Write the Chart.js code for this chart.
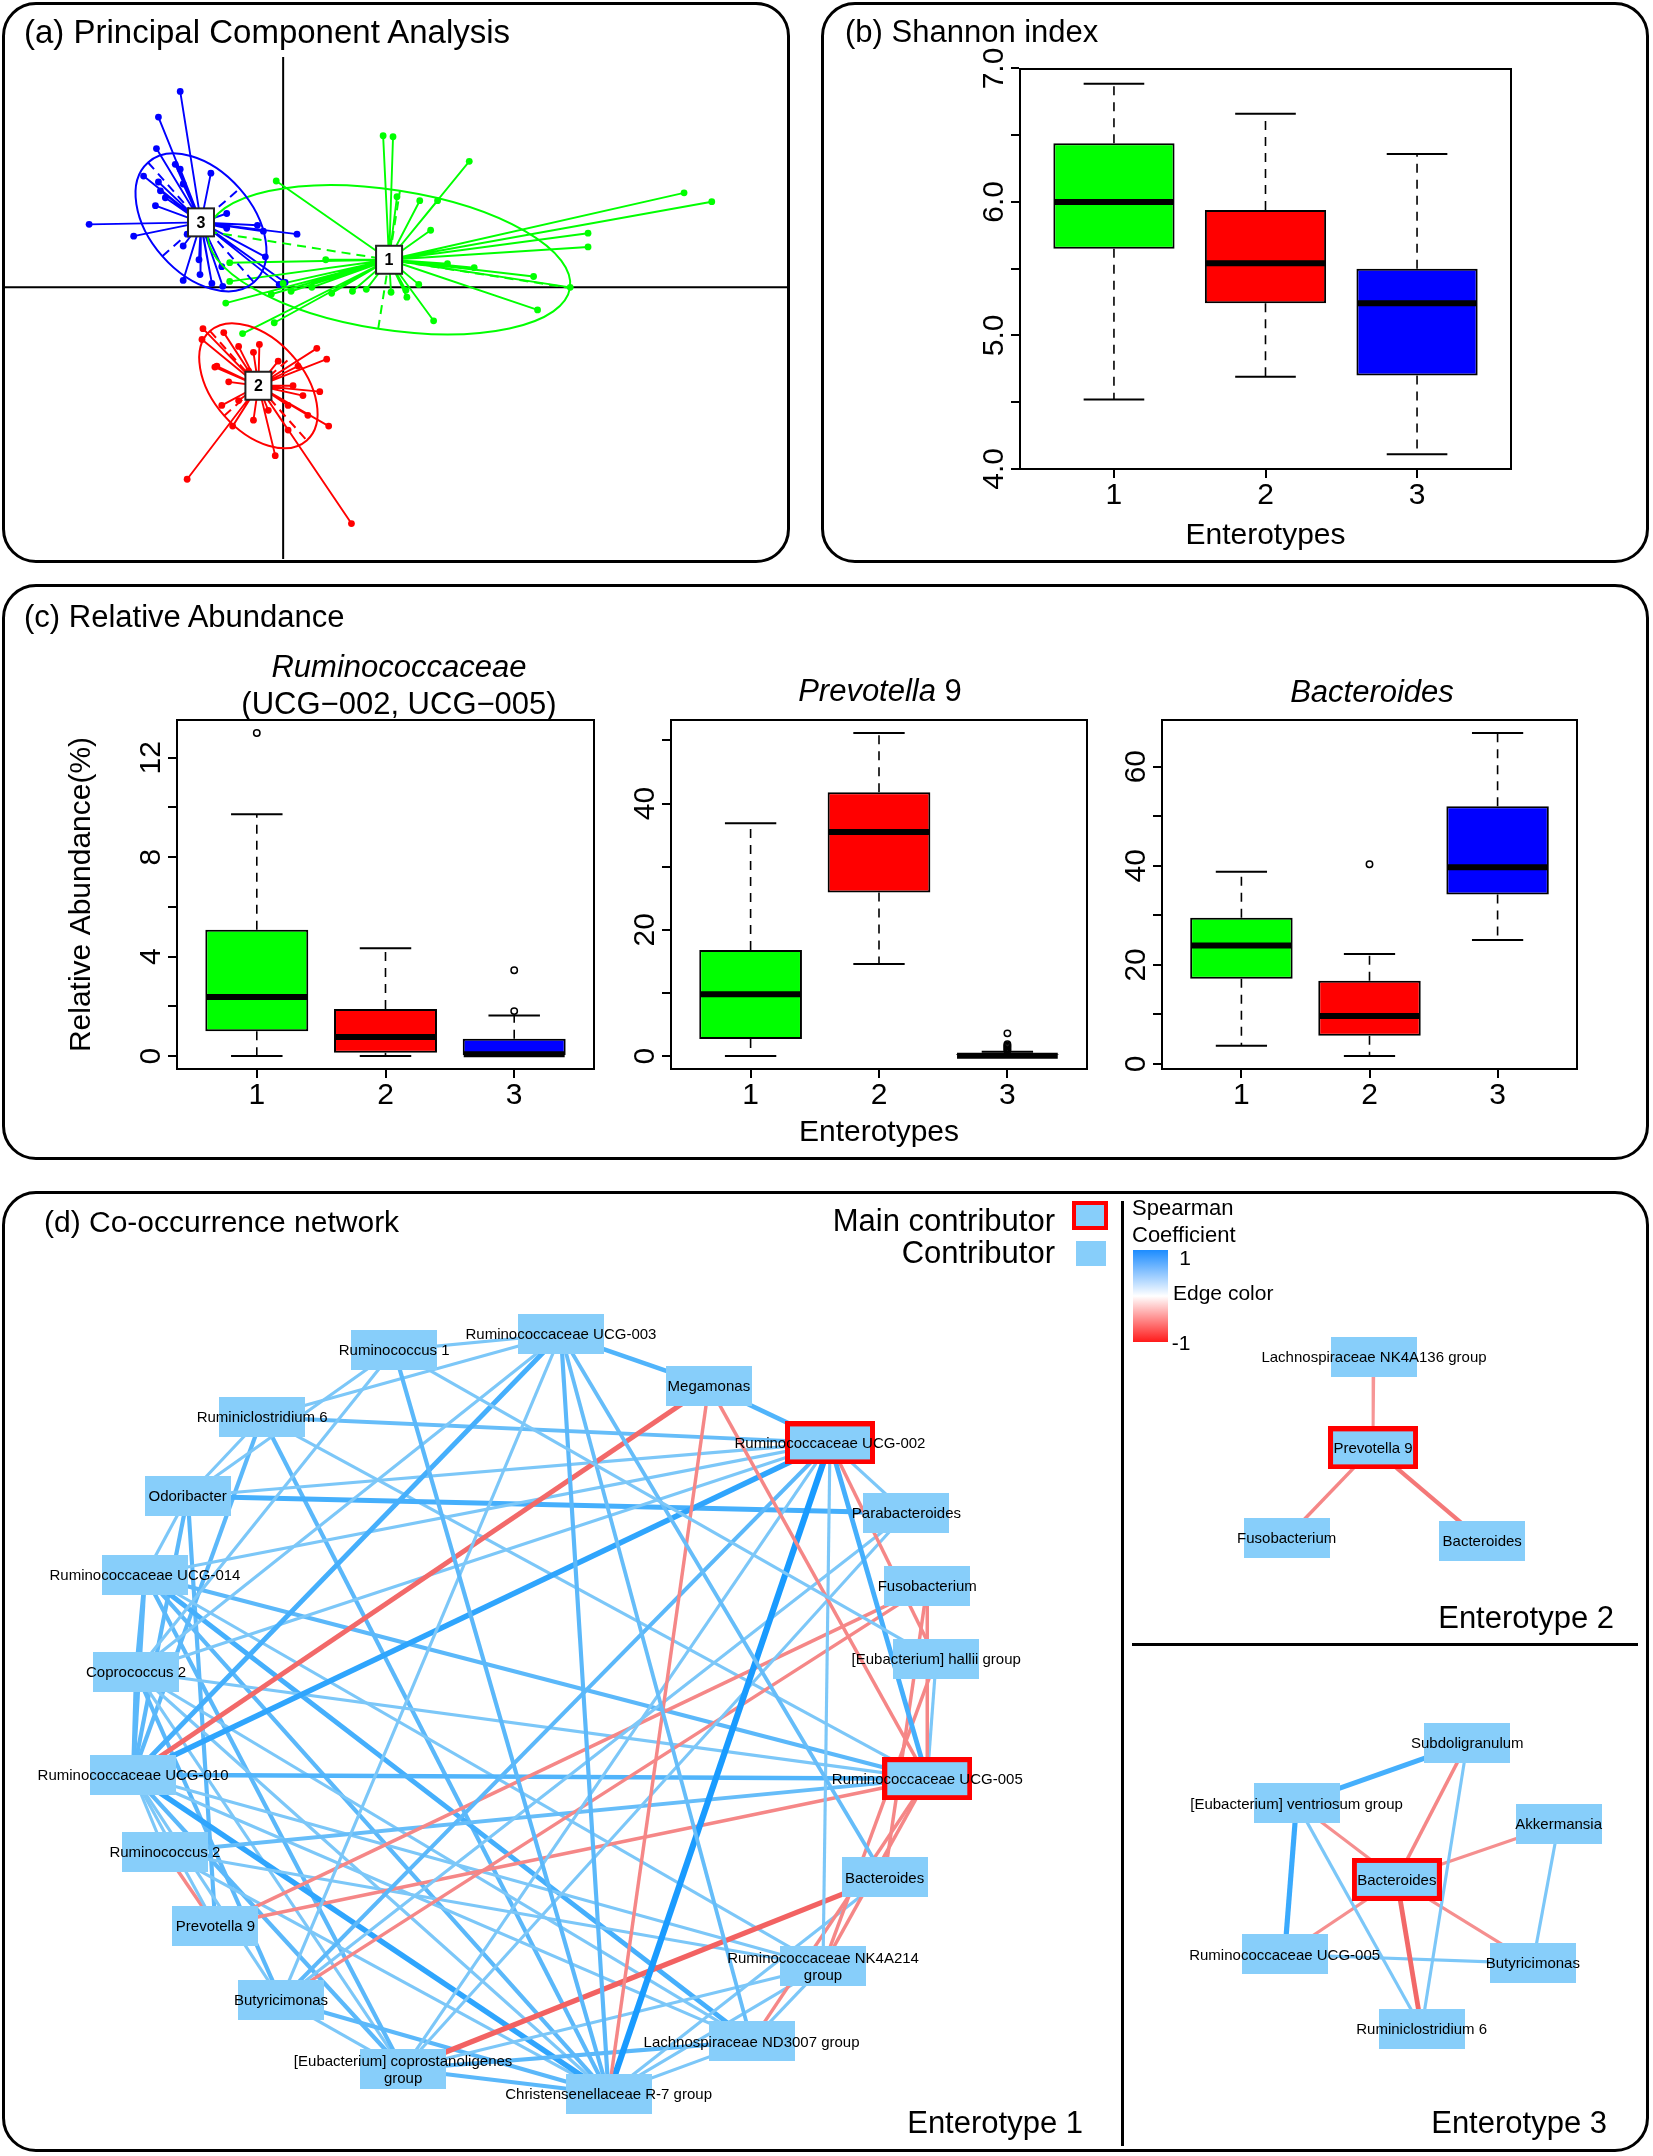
<!DOCTYPE html>
<html>
<head>
<meta charset="utf-8">
<title>Enterotypes</title>
<script src="https://cdn.jsdelivr.net/npm/chart.js@4.4.1/dist/chart.umd.min.js"></script>
<style>
  html, body { margin:0; padding:0; background:#fff; }
  #page { position:relative; width:1653px; height:2156px; overflow:hidden; background:#fff;
          font-family:"Liberation Sans", Arial, Helvetica, sans-serif; color:#000; }
  .panel { position:absolute; border:3px solid #000; border-radius:34px; box-sizing:border-box; pointer-events:none; z-index:5; }
  .t { position:absolute; white-space:nowrap; line-height:1; z-index:6; }
  .el { position:absolute; z-index:6; box-sizing:border-box; }
</style>
</head>
<body>
<div id="page"></div>
<script>
// ===================== DATA =====================
const enterotypes = ['1', '2', '3'];
const clusterColors = ['#00ff00', '#ff0000', '#0000ff'];

// (a) PCA – axis limits, centroids, samples, ellipses [semi-major, semi-minor, angle(deg)]
const pcaXRange = [-2.82, 5.10];
const pcaYRange = [-2.76, 2.34];
const pcaCentroid1 = [1.07, 0.28];
const pcaCentroid2 = [-0.25, -1.00];
const pcaCentroid3 = [-0.83, 0.66];
const pcaPoints1 = [[1.01,1.54],[1.11,1.53],[1.88,1.28],[-0.07,1.08],[1.15,0.92],[1.38,0.88],[1.56,0.88],[1.49,0.58],
  [0.43,0.28],[-0.54,0.25],[1.66,0.24],[1.93,0.20],[2.53,0.11],[-0.54,0.06],[2.90,0.00],[1.37,0.03],[0.00,0.04],
  [-0.12,-0.07],[0.08,-0.04],[0.29,0.00],[0.49,-0.06],[0.70,-0.04],[0.84,-0.02],[1.09,-0.05],[1.25,-0.10],[1.24,-0.03],
  [-0.58,-0.16],[2.57,-0.23],[1.52,-0.34],[-0.09,-0.36],[-0.41,-0.47],[4.05,0.96],[4.33,0.87],[3.08,0.55],[3.08,0.41]];
const pcaPoints2 = [[-0.81,-0.42],[-0.60,-0.46],[-0.82,-0.53],[-0.67,-0.80],[-0.55,-0.96],[0.34,-0.62],[0.44,-0.73],
  [0.37,-1.06],[-0.24,-0.58],[-0.30,-0.66],[-0.45,-0.60],[-0.69,-0.81],[-0.97,-1.95],[0.69,-2.40],[-0.08,-1.71],
  [0.46,-1.41],[-0.51,-1.41],[-0.45,-1.15],[-0.15,-1.25],[0.05,-1.20],[0.20,-1.10],[-0.35,-0.85],[0.15,-0.80],
  [-0.05,-0.75],[0.25,-1.30],[-0.62,-1.20],[0.10,-1.00],[-0.30,-1.35],[0.05,-1.45],[-0.15,-0.90]];
const pcaPoints3 = [[-1.04,1.99],[-1.26,1.73],[-1.28,1.41],[-1.09,1.25],[-1.04,1.20],[-1.01,1.05],[-1.41,1.13],
  [-1.26,1.07],[-1.24,0.98],[-1.19,0.91],[-0.73,1.16],[-1.29,0.83],[-0.57,0.75],[-1.96,0.64],[-1.51,0.52],[-1.01,0.42],
  [-0.26,0.63],[-0.20,0.57],[0.14,0.54],[-0.18,0.31],[-0.57,0.60],[-0.85,0.28],[-0.62,0.21],[-1.01,0.07],[-0.84,0.13],
  [-0.72,0.04],[-0.61,0.01],[-0.04,0.03],[0.02,0.05],[-0.97,0.54]];
const pcaEllipse1 = [1.85, 0.71, -8.9];
const pcaEllipse2 = [0.74, 0.46, -48.7];
const pcaEllipse3 = [0.81, 0.52, -48.7];

// (b) Shannon index box statistics (per enterotype)
const shannonMin    = [4.52, 4.69, 4.11];
const shannonQ1     = [5.65, 5.24, 4.70];
const shannonMedian = [6.00, 5.54, 5.24];
const shannonQ3     = [6.44, 5.94, 5.50];
const shannonMax    = [6.885, 6.66, 6.36];
const shannonOutliers = [[], [], []];
const shannonTicks = [4.0, 4.5, 5.0, 5.5, 6.0, 6.5, 7.0];
const shannonTickLabels = ['4.0', '', '5.0', '', '6.0', '', '7.0'];

// (c) Relative abundance (%)
const rumMin    = [0, 0, 0];
const rumQ1     = [1.0, 0.13, 0.0];
const rumMedian = [2.38, 0.77, 0.07];
const rumQ3     = [5.08, 1.89, 0.70];
const rumMax    = [9.73, 4.34, 1.63];
const rumOutliers = [[13.0], [], [1.81, 3.45]];
const rumTicks = [0, 2, 4, 6, 8, 10, 12];
const rumTickLabels = ['0', '', '4', '', '8', '', '12'];

const prevMin    = [0, 14.6, 0];
const prevQ1     = [2.7, 25.9, 0];
const prevMedian = [9.8, 35.5, 0.05];
const prevQ3     = [16.8, 41.8, 0.3];
const prevMax    = [36.9, 51.2, 0.7];
const prevOutliers = [[], [], [0.9, 1.1, 1.3, 1.5, 1.7, 1.9, 3.6]];
const prevTicks = [0, 10, 20, 30, 40, 50];
const prevTickLabels = ['0', '', '20', '', '40', ''];

const bactMin    = [3.7, 1.6, 25.0];
const bactQ1     = [17.2, 5.7, 34.2];
const bactMedian = [23.9, 9.7, 39.7];
const bactQ3     = [29.5, 16.8, 52.0];
const bactMax    = [38.8, 22.2, 66.8];
const bactOutliers = [[], [40.3], []];
const bactTicks = [0, 10, 20, 30, 40, 50, 60];
const bactTickLabels = ['0', '', '20', '', '40', '', '60'];

// (d) Co-occurrence networks: layout coordinates, main contributors, edges [a, b, Spearman rho]
const net1Names = ['Ruminococcus 1','Ruminococcaceae UCG-003','Megamonas','Ruminococcaceae UCG-002','Parabacteroides',
  'Fusobacterium','[Eubacterium] hallii group','Ruminococcaceae UCG-005','Bacteroides','Ruminococcaceae NK4A214\ngroup',
  'Lachnospiraceae ND3007 group','Christensenellaceae R-7 group','[Eubacterium] coprostanoligenes\ngroup','Butyricimonas',
  'Prevotella 9','Ruminococcus 2','Ruminococcaceae UCG-010','Coprococcus 2','Ruminococcaceae UCG-014','Odoribacter',
  'Ruminiclostridium 6'];
const net1X = [391,559,708,830,907,928,937,928,885,823,751,607,400,277,211,160,128,131,140,183,258];
const net1Y = [155,139,191,249,320,394,468,589,689,779,855,908,883,813,738,663,585,481,383,303,223];
const net1Main = [3, 7];
const net1Edges = [
  [0,1,0.35],[0,19,0.35],[0,11,0.5],[0,6,0.35],[0,17,0.35],
  [1,20,0.35],[1,2,0.55],[1,16,0.6],[1,11,0.5],[1,17,0.35],[1,13,0.35],[1,8,0.45],[1,10,0.45],
  [2,3,0.55],[2,16,-0.6],[2,11,-0.4],[2,7,-0.4],
  [3,11,0.8],[3,16,0.7],[3,20,0.45],[3,19,0.35],[3,18,0.35],[3,17,0.35],[3,4,0.35],[3,7,0.6],[3,9,0.35],
  [3,13,0.5],[3,12,0.35],[3,6,-0.4],
  [4,19,0.6],[4,13,0.35],[4,12,0.35],
  [5,14,-0.4],[5,7,-0.4],[5,8,-0.4],[5,13,-0.4],
  [6,7,0.35],[6,9,-0.4],
  [7,16,0.55],[7,18,0.5],[7,17,0.35],[7,15,0.45],[7,14,-0.4],[7,20,0.35],[7,9,-0.4],[7,10,-0.4],
  [8,12,-0.65],[8,11,0.35],
  [9,18,0.35],[9,12,0.35],[9,16,0.35],[9,15,0.35],[9,10,0.35],[9,11,0.35],
  [10,18,0.6],[10,17,0.35],[10,11,0.35],[10,12,0.5],[10,16,0.35],
  [11,16,0.7],[11,20,0.5],[11,17,0.35],[11,13,0.5],[11,12,0.5],[11,18,0.5],[11,15,0.35],
  [12,18,0.5],[12,16,0.5],[12,13,0.35],[12,17,0.35],
  [13,17,0.5],[13,16,0.35],
  [14,19,0.5],[14,16,0.35],[14,15,-0.4],
  [15,16,0.35],
  [16,17,0.5],[16,19,0.5],[16,18,0.5],[16,20,0.5],
  [17,18,0.5],[18,19,0.35],[19,20,0.35]];

const net2Names = ['Lachnospiraceae NK4A136 group','Prevotella 9','Fusobacterium','Bacteroides'];
const net2X = [1378, 1377, 1290, 1487];
const net2Y = [162, 254, 345, 348];
const net2Main = [1];
const net2Edges = [[0,1,-0.3],[1,2,-0.4],[1,3,-0.5]];

const net3Names = ['Subdoligranulum','[Eubacterium] ventriosum group','Akkermansia','Bacteroides',
  'Ruminococcaceae UCG-005','Butyricimonas','Ruminiclostridium 6'];
const net3X = [1472, 1300, 1564, 1401, 1288, 1538, 1426];
const net3Y = [553, 614, 635, 691, 767, 776, 842];
const net3Main = [3];
const net3Edges = [[0,1,0.6],[0,3,-0.4],[0,6,0.35],[1,3,-0.35],[1,4,0.65],[1,6,0.35],[2,3,-0.35],[2,5,0.35],
  [3,4,-0.35],[3,5,-0.35],[3,6,-0.6],[4,5,0.35]];

// ===================== HELPERS =====================
const FONT = '"Liberation Sans", Arial, Helvetica, sans-serif';
Chart.defaults.font.family = FONT;
Chart.defaults.color = '#000';
const page = document.getElementById('page');

function mkCanvas(left, top, w, h) {
  const d = document.createElement('div');
  d.style.cssText = `position:absolute;left:${left}px;top:${top}px;width:${w}px;height:${h}px;`;
  const c = document.createElement('canvas');
  d.appendChild(c); page.appendChild(d);
  return c;
}
function txt(s, x, y, size, align, extra) {
  const d = document.createElement('div');
  d.className = 't'; d.innerHTML = s;
  const tx = align === 'center' ? '-50%' : align === 'right' ? '-100%' : '0';
  d.style.cssText = `left:${x}px;top:${y}px;font-size:${size}px;transform:translate(${tx},-50%);${extra || ''}`;
  page.appendChild(d);
}
function el(css) {
  const d = document.createElement('div');
  d.className = 'el'; d.style.cssText = css; page.appendChild(d);
}
function panel(l, t, w, h) {
  const d = document.createElement('div');
  d.className = 'panel';
  d.style.cssText = `left:${l}px;top:${t}px;width:${w}px;height:${h}px;`;
  page.appendChild(d);
}

// ===================== (a) PCA =====================
(function () {
  const clusters = [
    { c: pcaCentroid1, pts: pcaPoints1, ell: pcaEllipse1, color: clusterColors[0], label: enterotypes[0] },
    { c: pcaCentroid2, pts: pcaPoints2, ell: pcaEllipse2, color: clusterColors[1], label: enterotypes[1] },
    { c: pcaCentroid3, pts: pcaPoints3, ell: pcaEllipse3, color: clusterColors[2], label: enterotypes[2] }
  ];
  const datasets = [];
  clusters.forEach(k => {
    datasets.push({
      data: k.pts.flatMap(p => [{ x: k.c[0], y: k.c[1] }, { x: p[0], y: p[1] }]),
      showLine: true, borderColor: k.color, borderWidth: 1.9, pointRadius: 0,
      borderJoinStyle: 'round', borderCapStyle: 'round', order: 3
    });
    datasets.push({
      data: k.pts.map(p => ({ x: p[0], y: p[1] })), showLine: false,
      pointRadius: 3.4, pointBackgroundColor: k.color, pointBorderWidth: 0, order: 2
    });
  });
  const pcaPlugin = {
    id: 'pcaDecor',
    beforeDatasetsDraw(chart) {
      const { ctx, chartArea: a, scales: { x, y } } = chart;
      ctx.save();
      ctx.strokeStyle = '#000'; ctx.lineWidth = 2;
      const x0 = x.getPixelForValue(0), y0 = y.getPixelForValue(0);
      ctx.beginPath();
      ctx.moveTo(a.left, y0); ctx.lineTo(a.right, y0);
      ctx.moveTo(x0, a.top); ctx.lineTo(x0, a.bottom);
      ctx.stroke();
      ctx.restore();
    },
    afterDatasetsDraw(chart) {
      const { ctx, scales: { x, y } } = chart;
      ctx.save();
      clusters.forEach(k => {
        const [A, B, th] = k.ell;
        const r = th * Math.PI / 180;
        const cx = x.getPixelForValue(k.c[0]), cy = y.getPixelForValue(k.c[1]);
        const ux = x.getPixelForValue(k.c[0] + A * Math.cos(r)) - cx, uy = y.getPixelForValue(k.c[1] + A * Math.sin(r)) - cy;
        const vx = x.getPixelForValue(k.c[0] - B * Math.sin(r)) - cx, vy = y.getPixelForValue(k.c[1] + B * Math.cos(r)) - cy;
        ctx.strokeStyle = k.color; ctx.lineWidth = 2;
        ctx.beginPath();
        ctx.ellipse(cx, cy, Math.hypot(ux, uy), Math.hypot(vx, vy), Math.atan2(uy, ux), 0, Math.PI * 2);
        ctx.stroke();
        ctx.setLineDash([9, 6]);
        ctx.beginPath();
        ctx.moveTo(cx - ux, cy - uy); ctx.lineTo(cx + ux, cy + uy);
        ctx.moveTo(cx - vx, cy - vy); ctx.lineTo(cx + vx, cy + vy);
        ctx.stroke();
        ctx.setLineDash([]);
      });
      clusters.forEach(k => {
        const cx = x.getPixelForValue(k.c[0]), cy = y.getPixelForValue(k.c[1]);
        ctx.fillStyle = '#fff'; ctx.strokeStyle = '#222'; ctx.lineWidth = 2;
        ctx.fillRect(cx - 13, cy - 14, 26, 28); ctx.strokeRect(cx - 13, cy - 14, 26, 28);
        ctx.fillStyle = '#000'; ctx.font = 'bold 16px ' + FONT;
        ctx.textAlign = 'center'; ctx.textBaseline = 'middle';
        ctx.fillText(k.label, cx, cy + 1);
      });
      ctx.restore();
    }
  };
  new Chart(mkCanvas(0, 53, 792, 510), {
    type: 'scatter',
    data: { datasets },
    options: {
      responsive: true, maintainAspectRatio: false, animation: false,
      layout: { padding: 0 },
      plugins: { legend: { display: false }, tooltip: { enabled: false } },
      scales: {
        x: { type: 'linear', min: pcaXRange[0], max: pcaXRange[1], display: false },
        y: { type: 'linear', min: pcaYRange[0], max: pcaYRange[1], display: false }
      }
    },
    plugins: [pcaPlugin]
  });
})();

// ===================== Boxplots =====================
function boxplotChart(area, st, opt) {
  const pt = 34, pr = 24;
  const left = area.l - opt.yw, top = area.t - pt;
  const w = area.r - area.l + opt.yw + pr, h = area.b - area.t + pt + opt.xh;
  const cv = mkCanvas(left, top, w, h);
  const all = [...st.min, ...st.max, ...st.out.flat()];
  const lo = Math.min(...all), hi = Math.max(...all), ext = 0.04 * (hi - lo);
  const xs = enterotypes.map((_, i) => i + 1);
  const n = xs.length;
  const xmin = 0.5 - 0.04 * n, xmax = n + 0.5 + 0.04 * n;
  const extras = {
    id: 'boxExtras',
    afterDatasetsDraw(chart) {
      const { ctx, chartArea: a, scales: { x, y } } = chart;
      const meta = chart.getDatasetMeta(0);
      ctx.save();
      ctx.strokeStyle = '#000';
      xs.forEach((xv, i) => {
        const px = x.getPixelForValue(xv);
        const hw = meta.data[i].width / 2;
        const py = v => y.getPixelForValue(v);
        ctx.lineWidth = 1.6; ctx.setLineDash([9, 7]);
        ctx.beginPath();
        ctx.moveTo(px, py(st.q3[i])); ctx.lineTo(px, py(st.max[i]));
        ctx.moveTo(px, py(st.q1[i])); ctx.lineTo(px, py(st.min[i]));
        ctx.stroke();
        ctx.setLineDash([]); ctx.lineWidth = 2;
        ctx.beginPath();
        ctx.moveTo(px - hw / 2, py(st.max[i])); ctx.lineTo(px + hw / 2, py(st.max[i]));
        ctx.moveTo(px - hw / 2, py(st.min[i])); ctx.lineTo(px + hw / 2, py(st.min[i]));
        ctx.stroke();
        ctx.lineWidth = 6;
        ctx.beginPath();
        ctx.moveTo(px - hw + 1, py(st.med[i])); ctx.lineTo(px + hw - 1, py(st.med[i]));
        ctx.stroke();
      });
      ctx.lineWidth = 2;
      ctx.strokeRect(a.left, a.top, a.right - a.left, a.bottom - a.top);
      ctx.fillStyle = '#000'; ctx.font = '30px ' + FONT;
      ctx.textAlign = 'center'; ctx.textBaseline = 'alphabetic';
      st.ticks.forEach((tv, j) => {
        const lab = st.labels[j];
        if (!lab) return;
        ctx.save();
        ctx.translate(a.left - 17, y.getPixelForValue(tv));
        ctx.rotate(-Math.PI / 2);
        ctx.fillText(lab, 0, 0);
        ctx.restore();
      });
      ctx.restore();
    }
  };
  new Chart(cv, {
    type: 'bar',
    data: {
      datasets: [
        { type: 'bar', data: xs.map((xv, i) => ({ x: xv, y: [st.q1[i], st.q3[i]] })),
          backgroundColor: clusterColors, borderColor: '#000', borderWidth: 2, borderSkipped: false,
          barPercentage: 0.8, categoryPercentage: 1.0, order: 2 },
        { type: 'line', data: st.out.flatMap((arr, i) => arr.map(v => ({ x: xs[i], y: v }))),
          showLine: false, pointRadius: 3.2, pointBorderWidth: 1.5, pointBorderColor: '#000',
          pointBackgroundColor: 'rgba(0,0,0,0)', order: 1 }
      ]
    },
    options: {
      responsive: true, maintainAspectRatio: false, animation: false,
      layout: { padding: { top: pt, right: pr, left: 0, bottom: 0 } },
      plugins: { legend: { display: false }, tooltip: { enabled: false } },
      scales: {
        x: {
          type: 'linear', min: xmin, max: xmax, offset: false, bounds: 'data',
          afterBuildTicks: s => { s.ticks = xs.map(v => ({ value: v })); },
          afterFit: s => { s.height = opt.xh; },
          ticks: { callback: (v, i) => enterotypes[i], font: { size: 30 }, color: '#000', padding: 0, autoSkip: false, maxRotation: 0 },
          grid: { display: true, drawOnChartArea: false, drawTicks: true, tickLength: 9, color: '#000', lineWidth: 2, offset: false },
          border: { display: true, color: '#000', width: 2 },
          title: { display: !!opt.xTitle, text: opt.xTitle || '', font: { size: 30 }, color: '#000', padding: 0 }
        },
        y: {
          type: 'linear', min: lo - ext, max: hi + ext, bounds: 'data',
          afterBuildTicks: s => { s.ticks = st.ticks.map(v => ({ value: v })); },
          afterFit: s => { s.width = opt.yw; },
          ticks: { display: false },
          grid: { display: true, drawOnChartArea: false, drawTicks: true, tickLength: 9, color: '#000', lineWidth: 2 },
          border: { display: true, color: '#000', width: 2 },
          title: { display: !!opt.yTitle, text: opt.yTitle || '', font: { size: 30 }, color: '#000', padding: 0 }
        }
      }
    },
    plugins: [extras]
  });
}

boxplotChart({ l: 1020, t: 69, r: 1511, b: 469 },
  { min: shannonMin, q1: shannonQ1, med: shannonMedian, q3: shannonQ3, max: shannonMax, out: shannonOutliers,
    ticks: shannonTicks, labels: shannonTickLabels },
  { yw: 105, xh: 85, xTitle: 'Enterotypes' });

boxplotChart({ l: 177, t: 720, r: 594, b: 1069 },
  { min: rumMin, q1: rumQ1, med: rumMedian, q3: rumQ3, max: rumMax, out: rumOutliers,
    ticks: rumTicks, labels: rumTickLabels },
  { yw: 113, xh: 82, yTitle: 'Relative Abundance(%)' });

boxplotChart({ l: 671, t: 720, r: 1087, b: 1069 },
  { min: prevMin, q1: prevQ1, med: prevMedian, q3: prevQ3, max: prevMax, out: prevOutliers,
    ticks: prevTicks, labels: prevTickLabels },
  { yw: 80, xh: 82, xTitle: 'Enterotypes' });

boxplotChart({ l: 1162, t: 720, r: 1577, b: 1069 },
  { min: bactMin, q1: bactQ1, med: bactMedian, q3: bactQ3, max: bactMax, out: bactOutliers,
    ticks: bactTicks, labels: bactTickLabels },
  { yw: 80, xh: 82 });

// ===================== (d) Networks =====================
(function () {
  const nets = [
    { names: net1Names, x: net1X, y: net1Y, main: net1Main, edges: net1Edges },
    { names: net2Names, x: net2X, y: net2Y, main: net2Main, edges: net2Edges },
    { names: net3Names, x: net3X, y: net3Y, main: net3Main, edges: net3Edges }
  ];
  function edgeStyle(rho) {
    const t = Math.min(1, Math.max(0, (Math.abs(rho) - 0.3) / 0.5));
    const lerp = (a, b) => Math.round(a + (b - a) * t);
    const c = rho > 0 ? [lerp(135, 25), lerp(204, 155), lerp(247, 255)] : [lerp(246, 240), lerp(150, 75), lerp(150, 75)];
    return { color: `rgb(${c.join(',')})`, width: 2.8 + 3.4 * t };
  }
  function nodeImage(main) {
    const c = document.createElement('canvas');
    c.width = main ? 90 : 86; c.height = main ? 43 : 40;
    const g = c.getContext('2d');
    g.fillStyle = '#87CEFA'; g.fillRect(0, 0, c.width, c.height);
    if (main) { g.strokeStyle = '#ff0000'; g.lineWidth = 5; g.strokeRect(2.5, 2.5, c.width - 5, c.height - 5); }
    return c;
  }
  const imgPlain = nodeImage(false), imgMain = nodeImage(true);
  const datasets = [];
  nets.forEach(net => {
    net.edges.forEach(([a, b, rho]) => {
      const s = edgeStyle(rho);
      datasets.push({
        data: [{ x: net.x[a], y: net.y[a] }, { x: net.x[b], y: net.y[b] }],
        showLine: true, borderColor: s.color, borderWidth: s.width, pointRadius: 0, order: 5
      });
    });
  });
  nets.forEach(net => {
    datasets.push({
      data: net.x.map((xv, i) => ({ x: xv, y: net.y[i] })), showLine: false, pointRadius: 5,
      pointStyle: ctx => net.main.includes(ctx.dataIndex) ? imgMain : imgPlain, order: 0
    });
  });
  const labels = {
    id: 'netLabels',
    afterDatasetsDraw(chart) {
      const { ctx, scales: { x, y } } = chart;
      ctx.save();
      ctx.font = '15px ' + FONT; ctx.fillStyle = '#000';
      ctx.textAlign = 'center'; ctx.textBaseline = 'middle';
      nets.forEach(net => net.names.forEach((nm, i) => {
        const px = x.getPixelForValue(net.x[i]), py = y.getPixelForValue(net.y[i]);
        const lines = nm.split('\n');
        lines.forEach((ln, j) => ctx.fillText(ln, px, py + (j - (lines.length - 1) / 2) * 17 + 1));
      }));
      ctx.restore();
    }
  };
  new Chart(mkCanvas(0, 1191, 1653, 965), {
    type: 'scatter',
    data: { datasets },
    options: {
      responsive: true, maintainAspectRatio: false, animation: false,
      layout: { padding: 0 },
      plugins: { legend: { display: false }, tooltip: { enabled: false } },
      scales: {
        x: { type: 'linear', min: 0, max: 1653, display: false },
        y: { type: 'linear', min: 0, max: 965, reverse: true, display: false }
      }
    },
    plugins: [labels]
  });
})();

// ===================== Frames & text =====================
panel(2, 2, 788, 561);
panel(821, 2, 828, 561);
panel(2, 584, 1647, 576);
panel(2, 1191, 1647, 961);

txt('(a) Principal Component Analysis', 24, 31, 33);
txt('(b) Shannon index', 845, 31, 31);
txt('(c) Relative Abundance', 24, 616, 31);
txt('(d) Co-occurrence network', 44, 1222, 30);

txt('<i>Ruminococcaceae</i>', 399, 666, 31, 'center');
txt('(UCG\u2212002, UCG\u2212005)', 399, 703, 31, 'center');
txt('<i>Prevotella</i> 9', 880, 690, 31, 'center');
txt('<i>Bacteroides</i>', 1372, 691, 31, 'center');

txt('Main contributor', 1055, 1220, 31, 'right');
txt('Contributor', 1055, 1252, 31, 'right');
el('left:1072px;top:1201px;width:36px;height:29px;background:#87CEFA;border:4.5px solid #ff0000;');
el('left:1076px;top:1241px;width:30px;height:25px;background:#87CEFA;');
el('left:1121px;top:1201px;width:3px;height:945px;background:#000;');
el('left:1132px;top:1643px;width:506px;height:3px;background:#000;');
txt('Spearman', 1132, 1208, 22);
txt('Coefficient', 1132, 1235, 22);
el('left:1133px;top:1250px;width:35px;height:92px;background:linear-gradient(to bottom,#1c8cff 0%,#ffffff 50%,#ff1a1a 100%);');
txt('1', 1185, 1257, 21, 'center');
txt('Edge color', 1173, 1292, 21);
txt('-1', 1181, 1342, 21, 'center');
txt('Enterotype 1', 1083, 2122, 31, 'right');
txt('Enterotype 2', 1614, 1617, 31, 'right');
txt('Enterotype 3', 1607, 2122, 31, 'right');
</script>
</body>
</html>
